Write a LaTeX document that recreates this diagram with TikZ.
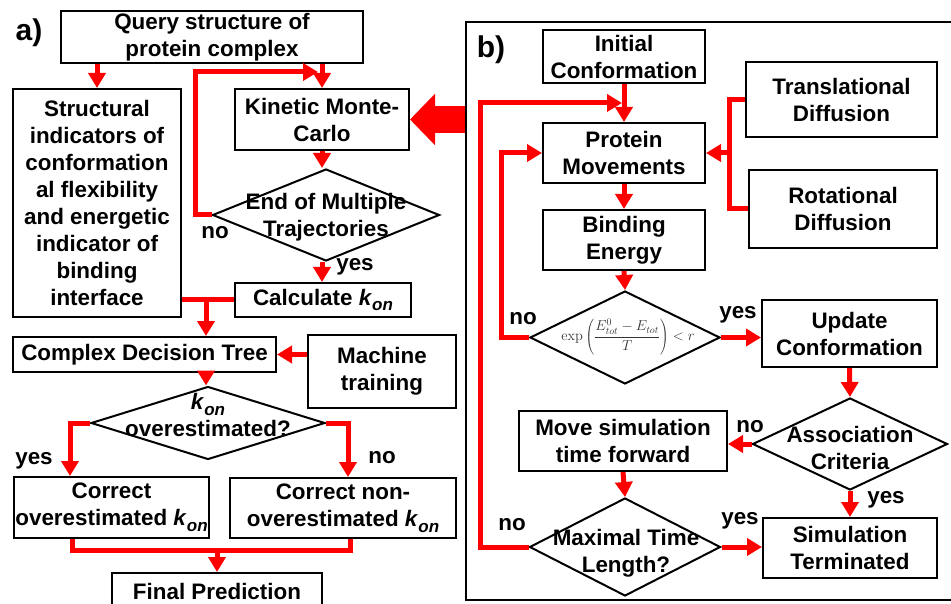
\documentclass[tikz,border=0pt]{standalone}
\usepackage[no-math]{fontspec}
\setmainfont{Liberation Sans}
\usetikzlibrary{shapes.geometric,arrows.meta}
\newcommand\kon{\textit{k}\raisebox{-0.25em}{\fontsize{17}{17}\selectfont\textit{on}}}
\begin{document}
\begin{tikzpicture}[x=1pt,y=-1pt,
    font=\fontsize{22.4}{27}\selectfont\bfseries,
    box/.style={draw,line width=2pt,inner sep=0pt,align=center},
    decide/.style={draw,diamond,line width=2pt,inner sep=0pt},
    txt/.style={align=center,inner sep=0pt},
    flow/.style={red,line width=5pt,-{Triangle[length=15pt,width=17pt]}},
    link/.style={red,line width=5pt}]
  \useasboundingbox (0,0) rectangle (951,604);
  \clip (0,0) rectangle (951,604);
  % a)
  \node[font=\fontsize{30}{30}\selectfont\bfseries] (la) at (29,33) {a)};
  \node[box,minimum width=302pt,minimum height=52pt] (query) at (212,37) {Query structure of\\protein complex};
  \node[box,minimum width=168pt,minimum height=228pt] (sind) at (97,203)
    {Structural\\indicators of\\conformation\\al flexibility\\and energetic\\indicator of\\binding\\interface};
  \node[box,minimum width=174pt,minimum height=61pt] (kmc) at (322,119.5) {Kinetic Monte-\\Carlo};
  \node[decide,minimum width=227pt,minimum height=92pt] (endmt) at (326,215) {};
  \node[txt] (endmttxt) at (326,217) {End of Multiple\\Trajectories};
  \node[box,minimum width=176pt,minimum height=34pt] (calc) at (323,300) {Calculate \kon};
  \node[box,minimum width=263pt,minimum height=35pt] (cdt) at (144.5,354.5) {Complex Decision Tree};
  \node[box,minimum width=148pt,minimum height=73pt] (mach) at (382,371.5) {Machine\\training};
  \node[decide,minimum width=234pt,minimum height=73pt] (kover) at (208,423) {};
  \node[txt] (kovertxt) at (208,415) {\kon\\overestimated?};
  \node[box,minimum width=195pt,minimum height=61pt] (cover) at (111.5,507.5) {Correct\\overestimated \kon};
  \node[box,minimum width=226pt,minimum height=60pt] (cnon) at (343,508) {Correct non-\\overestimated \kon};
  \node[box,minimum width=210pt,minimum height=36pt] (final) at (217,591) {Final Prediction};
  \coordinate (lpa) at (318,72);
  \coordinate (mrga) at (206,300);
  \draw[flow] (sind.north |- query.south) -- (sind.north);
  \draw[flow] (kmc.north |- query.south) -- (kmc.north);
  \draw[flow] (endmt.west) -- ++(-16,0) |- (lpa);
  \draw[flow] (kmc.south) -- (kmc.south |- endmt.north);
  \draw[flow] (kmc.south |- endmt.south) -- (kmc.south |- calc.north);
  \draw[link] (sind.east |- calc.west) -- (calc.west);
  \draw[flow] (mrga) -- (mrga |- cdt.north);
  \draw[flow] (cdt.east -| mach.west) -- (cdt.east);
  \draw[flow] (mrga |- cdt.south) -- (mrga |- kover.north);
  \draw[flow] (kover.west) -| ([xshift=-41.5pt]cover.north);
  \draw[flow] (kover.east) -| ([xshift=5pt]cnon.north);
  \draw[link] ([xshift=-39.5pt]cover.south) -- ++(0,11) -| ([xshift=7pt]cnon.south);
  \draw[flow] ([yshift=24pt]final.north) -- (final.north);
  \node (noa) at (215,233) {no};
  \node (yesa) at (355,267) {yes};
  \node (yesb) at (34,461) {yes};
  \node (nob) at (382,458) {no};
  % b)
  \node[draw,line width=2.5pt,minimum width=494pt,minimum height=578pt] (pb) at (713,311) {};
  \node[font=\fontsize{30}{30}\selectfont\bfseries] (lb) at (491,50) {b)};
  \draw[red,line width=27pt,-{Triangle[length=25pt,width=50pt]}] (pb.west |- kmc.east) -- (kmc.east);
  \node[box,minimum width=162pt,minimum height=53pt] (init) at (624,56.5) {Initial\\Conformation};
  \node[box,minimum width=162pt,minimum height=60pt] (pm) at (624,153) {Protein\\Movements};
  \node[box,minimum width=162pt,minimum height=60pt] (be) at (624,240) {Binding\\Energy};
  \node[box,minimum width=191pt,minimum height=75pt] (td) at (841.5,99.5) {Translational\\Diffusion};
  \node[box,minimum width=188pt,minimum height=78pt] (rd) at (843,209) {Rotational\\Diffusion};
  \node[decide,minimum width=190pt,minimum height=93pt] (expd) at (625,337.5) {};
  \node[txt,font=\fontsize{14.4}{17}\selectfont\mdseries,text=black!80] (expf) at (628,337)
    {$\exp\left(\displaystyle\frac{E_{tot}^{0}-E_{tot}}{T}\right)<r$};
  \node[box,minimum width=175pt,minimum height=67pt] (uc) at (849.5,333.5) {Update\\Conformation};
  \node[decide,minimum width=195pt,minimum height=92pt] (assoc) at (850,444) {};
  \node[txt] (assoctxt) at (850,448) {Association\\Criteria};
  \node[box,minimum width=208pt,minimum height=60pt] (msim) at (623,441) {Move simulation\\time forward};
  \node[decide,minimum width=191pt,minimum height=98pt] (maxt) at (625,547) {};
  \node[txt] (maxttxt) at (626,553) {Maximal Time\\Length?};
  \node[box,minimum width=174pt,minimum height=60pt] (simt) at (850,548) {Simulation\\Terminated};
  \coordinate (lpb) at (622,103);
  \coordinate (brk) at (730,153);
  \draw[flow] (init.south) -- (pm.north);
  \draw[flow] (maxt.west) -- ++(-48,0) |- (lpb);
  \draw[flow] (expd.west) -- ++(-28,0) |- (pm.west);
  \draw[link] (td.west) -- ++(-16,0) |- (rd.west);
  \draw[flow] (brk) -- (pm.east);
  \draw[flow] (pm.south) -- (be.north);
  \draw[flow] (be.south) -- (expd.north);
  \draw[flow] (expd.east) -- (expd.east -| uc.west);
  \draw[flow] (uc.south) -- (assoc.north);
  \draw[flow] (assoc.west) -- (assoc.west -| msim.east);
  \draw[flow] (assoc.south) -- (simt.north);
  \draw[flow] (msim.south) -- (maxt.north);
  \draw[flow] (maxt.east) -- (maxt.east -| simt.west);
  \node (noc) at (523,319) {no};
  \node (yesc) at (738,315) {yes};
  \node (nod) at (750,427) {no};
  \node (yesd) at (886,500) {yes};
  \node (yese) at (740,521) {yes};
  \node (noe) at (512,525) {no};
\end{tikzpicture}
\end{document}
